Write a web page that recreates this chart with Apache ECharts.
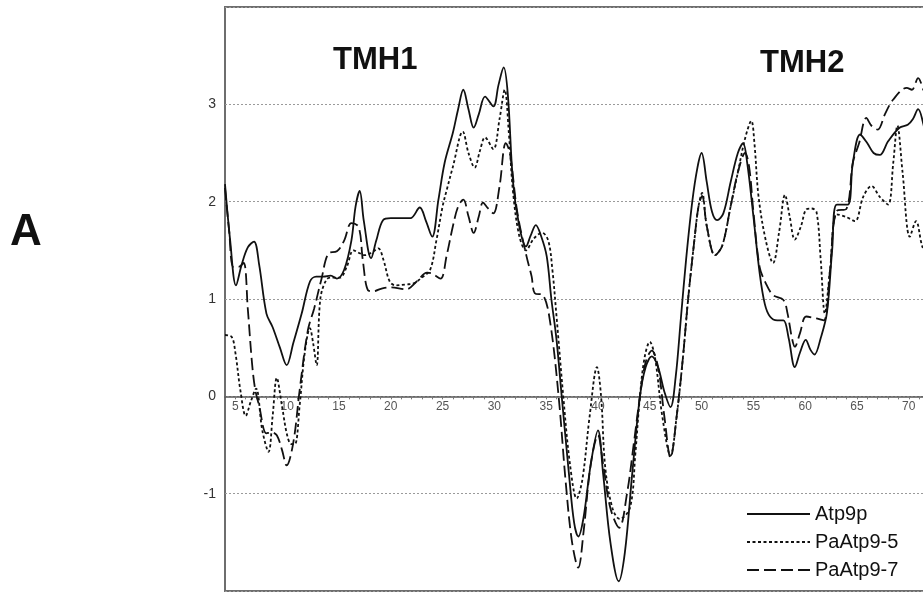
<!DOCTYPE html>
<html>
<head>
<meta charset="utf-8">
<script src="https://cdn.jsdelivr.net/npm/echarts@6/dist/echarts.min.js"></script>
<style>
  html, body { margin: 0; padding: 0; background: #fff; }
  #chart { width: 923px; height: 592px; }
</style>
</head>
<body>
<div id="chart"></div>
<script>
// residue position -> hydropathy
const atp9p = [
  [4, 2.18], [4.5, 1.6], [5.06, 1.14], [5.6, 1.35], [6.2, 1.53], [6.8, 1.59], [7.3, 1.35],
  [8.0, 0.85], [8.6, 0.71], [9.3, 0.5], [9.95, 0.32], [10.6, 0.55], [11.4, 0.85], [12.2, 1.18],
  [12.8, 1.23], [13.5, 1.23], [14.2, 1.24], [14.8, 1.21], [15.5, 1.3], [16.2, 1.6], [16.6, 1.95],
  [17.0, 2.11], [17.4, 1.8], [18.1, 1.42], [18.6, 1.6], [19.25, 1.81], [20, 1.83], [21, 1.83],
  [21.9, 1.83], [22.8, 1.94], [23.4, 1.8], [24.0, 1.64], [24.6, 2.02], [25.2, 2.4], [26, 2.71],
  [26.5, 2.95], [27.0, 3.15], [27.5, 2.95], [28.0, 2.76], [28.5, 2.9], [29.1, 3.08], [29.9, 2.98],
  [30.4, 3.2], [30.9, 3.38], [31.3, 3.1], [31.8, 2.2], [32.4, 1.75], [33.05, 1.54], [33.5, 1.65],
  [34.0, 1.76], [34.5, 1.65], [35.05, 1.44], [35.5, 1.0], [36.0, 0.58], [36.5, 0.0], [37.2, -0.8],
  [37.7, -1.3], [38.1, -1.44], [38.6, -1.25], [39.3, -0.7], [40.0, -0.35], [40.5, -0.8], [41.2, -1.5],
  [42.0, -1.9], [42.6, -1.6], [43.3, -0.8], [44.05, 0.0], [44.6, 0.3], [45.2, 0.41], [45.8, 0.3],
  [46.4, 0.05], [47.0, -0.11], [47.5, 0.2], [48.0, 0.8], [48.5, 1.4], [49.1, 2.0], [49.6, 2.35],
  [50.0, 2.5], [50.5, 2.2], [51.0, 1.9], [51.5, 1.81], [52.1, 1.88], [52.8, 2.2], [53.5, 2.5],
  [54.0, 2.6], [54.4, 2.4], [55.0, 1.85], [55.6, 1.27], [56.1, 0.95], [56.6, 0.82], [57.3, 0.78],
  [57.9, 0.78], [58.4, 0.6], [59.0, 0.30], [59.5, 0.45], [60.05, 0.58], [60.5, 0.48], [60.9, 0.43],
  [61.5, 0.6], [62.1, 0.86], [62.6, 1.5], [63.05, 1.97], [64.1, 1.97], [64.6, 2.4], [65.3, 2.69],
  [66.0, 2.6], [66.6, 2.5], [67.2, 2.48], [68.0, 2.62], [69.1, 2.76], [69.9, 2.79], [70.4, 2.85],
  [70.9, 2.95], [71.4, 2.8], [71.95, 2.5]
];

const paAtp9_5 = [
  [4, 0.63], [4.65, 0.61], [5.0, 0.45], [5.5, 0.05], [6.0, -0.2], [6.5, -0.05], [7.0, 0.08],
  [7.6, -0.35], [8.2, -0.57], [8.6, -0.2], [9.0, 0.19], [9.5, -0.1], [10.0, -0.4], [10.4, -0.49],
  [10.75, -0.49], [11.2, -0.1], [11.7, 0.45], [12.2, 0.70], [12.5, 0.55], [12.85, 0.32], [13.2, 1.0],
  [13.8, 1.2], [14.4, 1.22], [15.1, 1.22], [15.75, 1.33], [16.4, 1.5], [17.0, 1.47], [17.5, 1.45],
  [18.2, 1.48], [18.8, 1.52], [19.3, 1.4], [19.9, 1.18], [20.5, 1.14], [21.5, 1.15], [22.2, 1.16],
  [23, 1.22], [23.8, 1.3], [24.4, 1.6], [25.0, 1.95], [25.4, 2.12], [26, 2.36], [26.95, 2.72],
  [27.5, 2.5], [28.1, 2.35], [28.6, 2.52], [29.1, 2.66], [29.9, 2.54], [30.5, 2.85], [31.0, 3.15],
  [31.4, 2.7], [31.8, 2.1], [32.4, 1.65], [33.05, 1.5], [33.8, 1.62], [34.6, 1.68], [35.2, 1.6],
  [35.6, 1.3], [36.0, 0.82], [36.65, 0.0], [37.3, -0.7], [37.95, -1.05], [38.5, -0.85], [39.2, -0.2],
  [39.9, 0.30], [40.3, 0.0], [40.7, -0.73], [41.4, -1.15], [42.1, -1.26], [43.1, -1.14], [43.6, -0.6],
  [44.05, 0.0], [44.5, 0.4], [45.0, 0.56], [45.5, 0.4], [46.2, -0.2], [47.0, -0.61], [47.6, -0.2],
  [48.2, 0.4], [48.7, 1.0], [49.3, 1.6], [49.7, 1.95], [50.05, 2.09], [50.5, 1.75], [51.3, 1.45],
  [52.0, 1.55], [52.8, 1.95], [53.5, 2.3], [54.2, 2.65], [54.8, 2.83], [55.1, 2.6], [55.5, 2.05],
  [56.2, 1.6], [56.9, 1.37], [57.5, 1.7], [58.05, 2.07], [58.5, 1.85], [59.0, 1.61], [59.6, 1.75],
  [60.1, 1.92], [60.6, 1.93], [61.1, 1.89], [61.5, 1.4], [61.9, 0.85], [62.4, 1.3], [63.05, 1.87],
  [64.0, 1.84], [64.8, 1.80], [65.6, 2.05], [66.4, 2.16], [67.2, 2.05], [68.0, 1.97], [68.5, 2.4],
  [68.9, 2.78], [69.4, 2.3], [70.1, 1.64], [70.7, 1.80], [71.3, 1.54], [71.95, 1.4]
];

const paAtp9_7 = [
  [4, 2.14], [4.4, 1.7], [4.8, 1.33], [5.3, 1.33], [5.8, 1.37], [6.2, 0.9], [6.6, 0.35], [6.9, 0.08],
  [7.3, -0.1], [8.0, -0.38], [8.5, -0.37], [9.0, -0.40], [9.5, -0.55], [9.95, -0.71], [10.6, -0.47],
  [11.2, 0.06], [12.0, 0.68], [12.6, 0.9], [13.3, 1.2], [14.0, 1.47], [14.8, 1.49], [15.5, 1.6],
  [16.2, 1.78], [16.9, 1.74], [17.3, 1.4], [17.8, 1.09], [18.3, 1.08], [19.2, 1.11], [20.0, 1.12],
  [21.5, 1.10], [22.5, 1.18], [23.5, 1.27], [24.0, 1.26], [24.8, 1.21], [25.4, 1.45], [26.0, 1.75],
  [26.5, 1.95], [27.0, 2.02], [27.5, 1.85], [28.0, 1.68], [28.5, 1.85], [28.9, 1.99], [29.4, 1.93],
  [29.9, 1.88], [30.5, 2.16], [31.1, 2.6], [31.5, 2.5], [32.2, 1.9], [33.1, 1.44], [33.6, 1.23],
  [33.9, 1.06], [34.7, 1.04], [35.4, 0.75], [36.2, 0.0], [36.9, -0.9], [37.5, -1.5], [38.1, -1.76],
  [38.6, -1.4], [39.3, -0.7], [40.0, -0.4], [40.5, -0.7], [41.2, -1.15], [42.05, -1.35], [42.8, -1.0],
  [43.5, -0.45], [44.05, 0.0], [44.6, 0.35], [45.2, 0.47], [45.8, 0.3], [46.4, -0.2], [47.0, -0.63],
  [47.6, -0.2], [48.2, 0.4], [48.7, 1.0], [49.3, 1.6], [49.7, 1.95], [50.05, 2.06], [50.5, 1.75],
  [51.3, 1.45], [52.0, 1.55], [52.8, 1.95], [53.5, 2.3], [54.2, 2.5], [54.6, 2.35], [55.0, 1.9],
  [55.6, 1.33], [56.2, 1.16], [56.9, 1.04], [57.9, 0.99], [58.3, 0.85], [58.7, 0.61], [59.0, 0.51],
  [59.5, 0.65], [60.1, 0.82], [61.1, 0.80], [61.8, 0.78], [62.4, 1.3], [63.0, 1.9], [64.0, 1.93],
  [64.6, 2.4], [65.2, 2.6], [65.9, 2.86], [66.4, 2.78], [67.0, 2.74], [67.7, 2.9], [68.5, 3.05],
  [69.8, 3.17], [70.3, 3.15], [70.9, 3.27], [71.4, 3.15], [71.95, 3.0]
];

const seriesNames = ['Atp9p', 'PaAtp9-5', 'PaAtp9-7'];
const xLabelValues = [5, 10, 15, 20, 25, 30, 35, 40, 45, 50, 55, 60, 65, 70];
const xTickValues = [];
for (let i = 5; i <= 71; i++) xTickValues.push(i);
const yLabelValues = [-1, 0, 1, 2, 3];

const FONT = 'Liberation Sans, Arial, Helvetica, sans-serif';
const chart = echarts.init(document.getElementById('chart'));

// grid: top 7, bottom edge at 591, y from -2 to 4 -> zero line sits 2/6 of the height above the bottom
const gridTop = 7, gridBottomY = 591;
const zeroOffset = -(gridBottomY - gridTop) * 2 / 6;

chart.setOption({
  animation: false,
  backgroundColor: '#fff',
  grid: {
    show: true,
    left: 225, top: gridTop, right: -6, bottom: 592 - gridBottomY,
    borderColor: '#6e6e6e', borderWidth: 2,
    containLabel: false,
    outerBoundsMode: 'none'
  },
  graphic: [
    { type: 'text', left: 10, top: 211, style: { text: 'A', font: 'bold 44px ' + FONT, fill: '#111' } },
    { type: 'text', left: 333, top: 45, style: { text: 'TMH1', font: 'bold 31px ' + FONT, fill: '#111' } },
    { type: 'text', left: 760, top: 48, style: { text: 'TMH2', font: 'bold 31px ' + FONT, fill: '#111' } }
  ],
  legend: {
    orient: 'vertical',
    left: 741, top: 499,
    itemWidth: 63, itemHeight: 14, itemGap: 8,
    data: seriesNames,
    itemStyle: { opacity: 0 },
    textStyle: { fontSize: 20, lineHeight: 20, color: '#111', fontFamily: FONT }
  },
  xAxis: {
    type: 'value',
    position: 'bottom',
    offset: zeroOffset,
    min: 4, max: 71.95,
    axisLine: { onZero: false, lineStyle: { color: '#555', width: 1.5 } },
    axisTick: { show: true, length: 3, customValues: xTickValues, lineStyle: { color: '#777' } },
    axisLabel: { customValues: xLabelValues, margin: 4, fontSize: 12, color: '#555', fontFamily: FONT },
    splitLine: { show: false }
  },
  yAxis: {
    type: 'value',
    min: -2, max: 4, interval: 1,
    axisLine: { show: false },
    axisTick: { show: false },
    axisLabel: {
      margin: 9, fontSize: 14, color: '#333', fontFamily: FONT,
      formatter: v => (yLabelValues.indexOf(v) >= 0 ? String(v) : '')
    },
    splitLine: {
      show: true,
      lineStyle: { type: [2, 2], color: '#9a9a9a', width: 1 }
    }
  },
  series: [
    {
      name: seriesNames[0], type: 'line', data: atp9p, symbol: 'none', smooth: 0.35,
      lineStyle: { color: '#111', width: 1.8, type: 'solid' }, itemStyle: { color: '#111' }
    },
    {
      name: seriesNames[1], type: 'line', data: paAtp9_5, symbol: 'none', smooth: 0.35,
      lineStyle: { color: '#111', width: 1.8, type: [3, 2.5] }, itemStyle: { color: '#111' }
    },
    {
      name: seriesNames[2], type: 'line', data: paAtp9_7, symbol: 'none', smooth: 0.35,
      lineStyle: { color: '#111', width: 1.8, type: [12, 5] }, itemStyle: { color: '#111' }
    }
  ]
});
</script>
</body>
</html>
